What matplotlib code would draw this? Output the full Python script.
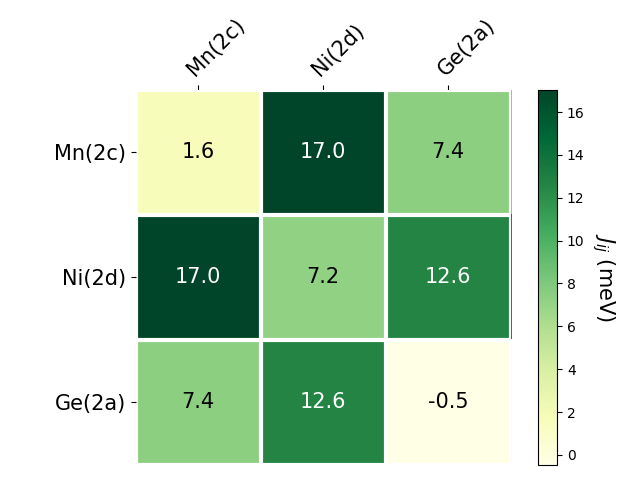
import matplotlib
matplotlib.use('Agg')
import matplotlib.pyplot as plt
import numpy as np

sites = ["Mn(2c)", "Ni(2d)", "Ge(2a)"]
row_mn = [1.6, 17.04, 7.4]
row_ni = [17.04, 7.2, 12.6]
row_ge = [7.4, 12.6, -0.47]

data = np.array([row_mn, row_ni, row_ge])

fig, ax = plt.subplots(figsize=(6.4, 4.8), dpi=100)
im = ax.imshow(data, cmap="YlGn")

cbar = ax.figure.colorbar(im, ax=ax)
cbar.ax.set_ylabel(r"$J_{ij}$ (meV)", rotation=-90, va="bottom", fontsize=15)

ax.set_xticks(np.arange(len(sites)), labels=sites, fontsize=15)
ax.set_yticks(np.arange(len(sites)), labels=sites, fontsize=15)
ax.tick_params(top=True, bottom=False, labeltop=True, labelbottom=False)
plt.setp(ax.get_xticklabels(), rotation=45, ha="left", rotation_mode="anchor")

ax.spines[:].set_visible(False)
ax.set_xticks(np.arange(data.shape[1] + 1) - .5, minor=True)
ax.set_yticks(np.arange(data.shape[0] + 1) - .5, minor=True)
ax.grid(which="minor", color="w", linestyle='-', linewidth=3)
ax.tick_params(which="minor", bottom=False, left=False)

thresh = im.norm(data.max()) / 2.
for i in range(data.shape[0]):
    for j in range(data.shape[1]):
        c = "white" if im.norm(data[i, j]) > thresh else "black"
        ax.text(j, i, "{:.1f}".format(data[i, j]), ha="center", va="center", color=c, fontsize=15)

fig.tight_layout()
fig.savefig("out.png", dpi=100)
